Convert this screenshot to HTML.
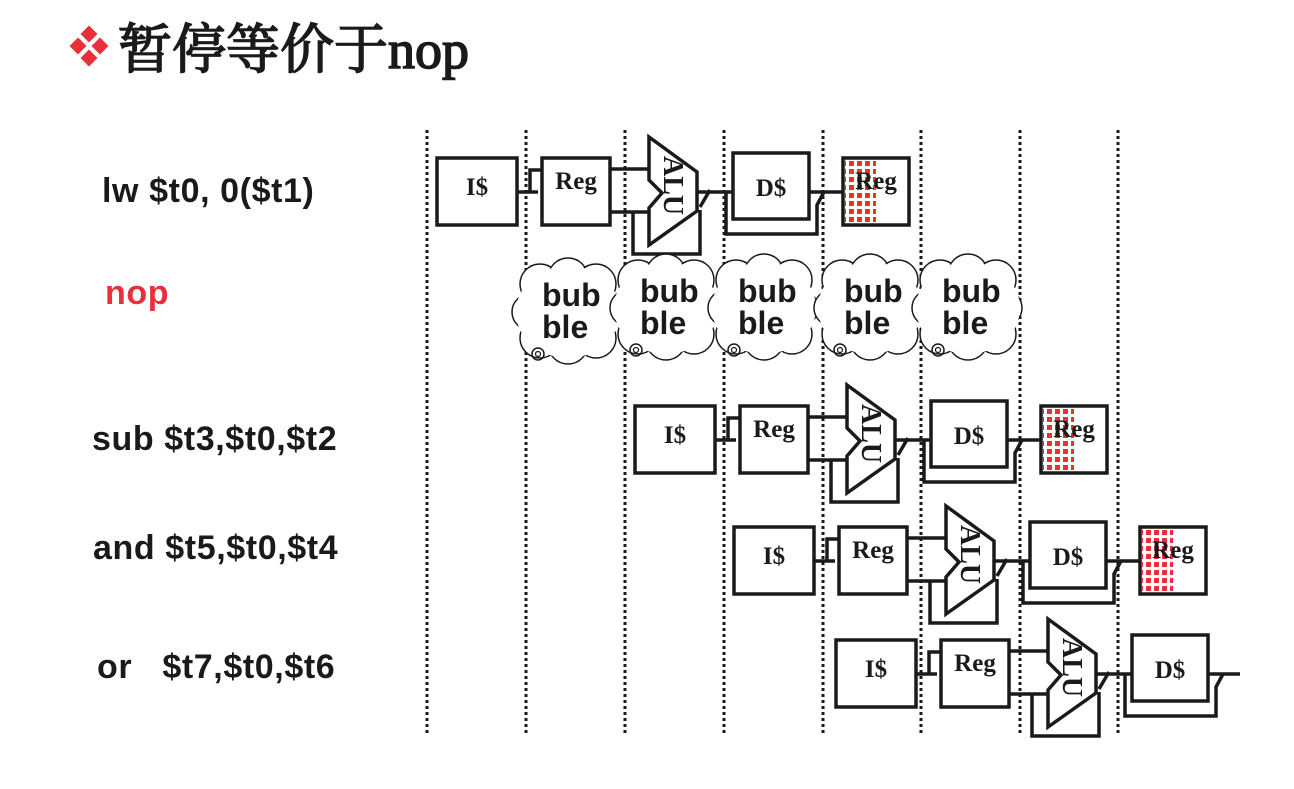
<!DOCTYPE html>
<html><head><meta charset="utf-8"><style>
html,body{margin:0;padding:0;background:#fff;width:1294px;height:789px;overflow:hidden}
svg{display:block}
.l{font-family:"Liberation Sans",Arial,sans-serif;font-weight:bold;font-size:34px;letter-spacing:0.6px;fill:#1a1a1a}
.b{font-family:"Liberation Serif",serif;font-weight:bold;font-size:25px;fill:#1a1a1a}
.bb{font-family:"Liberation Sans",sans-serif;font-weight:bold;font-size:32px;fill:#1a1a1a}
</style></head><body>
<svg width="1294" height="789" viewBox="0 0 1294 789" xmlns="http://www.w3.org/2000/svg">
<defs>
<pattern id="dots" width="8" height="8" patternUnits="userSpaceOnUse">
<rect x="1" y="1" width="5" height="5" fill="#e8303a"/></pattern>
<g id="pipe" fill="none" stroke="#1a1a1a" stroke-width="3.5">
<rect x="437" y="158" width="80" height="67" fill="#fff"/>
<path d="M517 192H538M530 192V170H542"/>
<rect x="542" y="158" width="68" height="67" fill="#fff"/>
<path d="M610 169H649M610 212H649M633 212V254H700V210"/>
<path d="M649 137L697 172V211L649 245V208L662 193L649 180Z" fill="#fff"/>
<path d="M697 192H733M700 207L710 190"/>
<path d="M726 192V234H817V205L824 192"/>
<rect x="733" y="153" width="76" height="66" fill="#fff"/>
</g>
<g id="wb">
<path d="M809 192H843" stroke="#1a1a1a" stroke-width="3.5"/>
<rect x="843" y="158" width="66" height="67" fill="#fff"/>
<rect x="845" y="160" width="31" height="63" fill="url(#dots)"/>
<rect x="843" y="158" width="66" height="67" fill="none" stroke="#1a1a1a" stroke-width="3.5"/>
<text x="876" y="189" class="b" text-anchor="middle">Reg</text>
</g>
<g id="txt">
<text x="477" y="195" class="b" text-anchor="middle">I$</text>
<text x="576" y="189" class="b" text-anchor="middle">Reg</text>
<text x="771" y="196" class="b" text-anchor="middle">D$</text>
<text class="b" style="font-size:28px" transform="translate(664,156) rotate(90)">ALU</text>
</g>
<g id="cloud">
<g fill="#fff" stroke="#1a1a1a" stroke-width="1.5">
<circle cx="-28" cy="-28" r="20"/><circle cx="0" cy="-34" r="20"/><circle cx="28" cy="-28" r="20"/>
<circle cx="36" cy="0" r="18"/><circle cx="28" cy="26" r="20"/><circle cx="0" cy="32" r="20"/>
<circle cx="-28" cy="26" r="20"/><circle cx="-38" cy="0" r="18"/>
</g>
<ellipse cx="0" cy="0" rx="52" ry="46" fill="#fff"/>
<g fill="#fff"><circle cx="-28" cy="-28" r="18.5"/><circle cx="0" cy="-34" r="18.5"/><circle cx="28" cy="-28" r="18.5"/>
<circle cx="36" cy="0" r="16.5"/><circle cx="28" cy="26" r="18.5"/><circle cx="0" cy="32" r="18.5"/>
<circle cx="-28" cy="26" r="18.5"/><circle cx="-38" cy="0" r="16.5"/></g>
<circle cx="-30" cy="42" r="6" fill="none" stroke="#1a1a1a" stroke-width="1.5"/>
<circle cx="-30" cy="42" r="2.5" fill="none" stroke="#1a1a1a" stroke-width="1.2"/>
<text x="-26" y="-6" class="bb">bub</text><text x="-26" y="26" class="bb">ble</text>
</g>
</defs>
<g fill="#e8303a">
<rect x="83" y="28" width="12" height="12" transform="rotate(45 89 34)"/>
<rect x="72" y="40" width="12" height="12" transform="rotate(45 78 46)"/>
<rect x="94" y="40" width="12" height="12" transform="rotate(45 100 46)"/>
<rect x="83" y="52" width="12" height="12" transform="rotate(45 89 58)"/>
</g>
<text x="118" y="68" style="font-family:'Liberation Serif','Noto Serif CJK SC',serif;font-size:54px;fill:#1a1a1a;stroke:#1a1a1a;stroke-width:1.6px">暂停等价于nop</text>
<g stroke="#1a1a1a" stroke-width="3" stroke-dasharray="3,3">
<path d="M427 130V735M526 130V735M625 130V735M724 130V735M823 130V735M921 130V735M1020 130V735M1118 130V735"/>
</g>
<text x="102" y="202" class="l">lw $t0, 0($t1)</text>
<text x="105" y="304" class="l" style="fill:#e8303a">nop</text>
<text x="92" y="450" class="l">sub $t3,$t0,$t2</text>
<text x="93" y="559" class="l">and $t5,$t0,$t4</text>
<text x="97" y="678" class="l" xml:space="preserve">or   $t7,$t0,$t6</text>
<use href="#pipe"/><use href="#wb"/><use href="#txt"/>
<g transform="translate(198,248)"><use href="#pipe"/><use href="#wb"/><use href="#txt"/></g>
<g transform="translate(297,369)"><use href="#pipe"/><use href="#wb"/><use href="#txt"/></g>
<g transform="translate(399,482)"><use href="#pipe"/><path d="M809 192H841" stroke="#1a1a1a" stroke-width="3.5"/><use href="#txt"/></g>
<use href="#cloud" transform="translate(568,312)"/>
<use href="#cloud" transform="translate(666,308)"/>
<use href="#cloud" transform="translate(764,308)"/>
<use href="#cloud" transform="translate(870,308)"/>
<use href="#cloud" transform="translate(968,308)"/>
</svg>
</body></html>
